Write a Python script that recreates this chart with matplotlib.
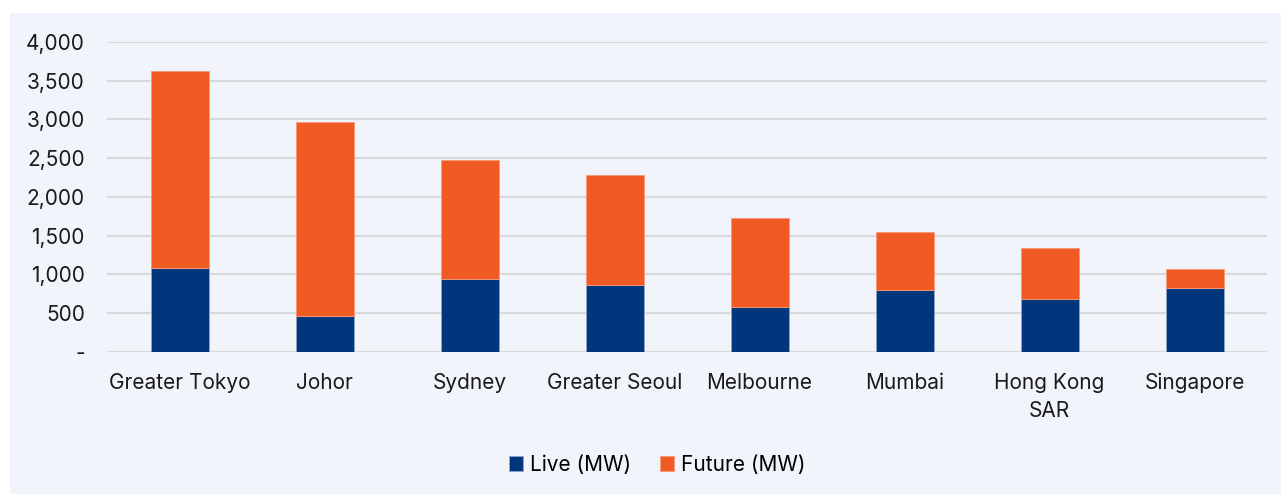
import matplotlib
matplotlib.use("Agg")
import matplotlib.pyplot as plt
from matplotlib.patches import Rectangle
import numpy as np

cities = ["Greater Tokyo", "Johor", "Sydney", "Greater Seoul", "Melbourne",
          "Mumbai", "Hong Kong\nSAR", "Singapore"]
live_mw = [1085, 466, 945, 863, 574, 799, 682, 821]
future_mw = [2545, 2507, 1536, 1415, 1153, 746, 656, 246]
yticks = [0, 500, 1000, 1500, 2000, 2500, 3000, 3500, 4000]
ytick_labels = ["-", "500", "1,000", "1,500", "2,000", "2,500", "3,000", "3,500", "4,000"]

NAVY = "#00367C"
ORANGE = "#F15A22"
PANEL = "#F1F4FB"

plt.rcParams['font.family'] = ['Inter', 'DejaVu Sans']

W, H = 1282, 494
fig = plt.figure(figsize=(W / 100, H / 100), dpi=100)
fig.patch.set_facecolor("white")
panel = Rectangle((10 / W, 0), (W - 11) / W, (H - 13) / H,
                  transform=fig.transFigure, facecolor=PANEL,
                  edgecolor="none", zorder=-10)
fig.add_artist(panel)

left, right = 107 / W, 1267 / W
bottom = (H - 351.7) / H
top = (H - 42) / H
ax = fig.add_axes([left, bottom, right - left, top - bottom])
ax.set_zorder(1)
ax.set_facecolor("none")

x = np.arange(len(cities))
ax.bar(x, live_mw, width=0.4, color=NAVY, edgecolor="#8FA6C8", linewidth=0.6,
       label="Live (MW)", zorder=3)
ax.bar(x, future_mw, width=0.4, bottom=live_mw, color=ORANGE, edgecolor="#F59A78",
       linewidth=0.6, label="Future (MW)", zorder=3)

ax.set_xlim(-0.5, len(cities) - 0.5)
ax.set_ylim(0, 4000)
ax.set_yticks(yticks)
ax.set_yticklabels(ytick_labels, fontsize=15, color="#1a1a1a")
ax.set_xticks(x)
ax.set_xticklabels(cities, fontsize=15, color="#1a1a1a", linespacing=1.5)
ax.tick_params(axis="both", length=0)
ax.tick_params(axis="y", pad=16)
ax.tick_params(axis="x", pad=15)
ax.grid(axis="y", color="#D9D9D9", linewidth=1.5, zorder=0)
for s in ax.spines.values():
    s.set_visible(False)

leg = fig.legend(loc="center", bbox_to_anchor=(0.5 + 16 / W, (H - 465) / H), ncol=2,
                 frameon=False, fontsize=15, handlelength=0.7, handleheight=0.7,
                 handletextpad=0.3, columnspacing=1.4)
leg.set_zorder(2)

fig.savefig("out.png", dpi=100)
